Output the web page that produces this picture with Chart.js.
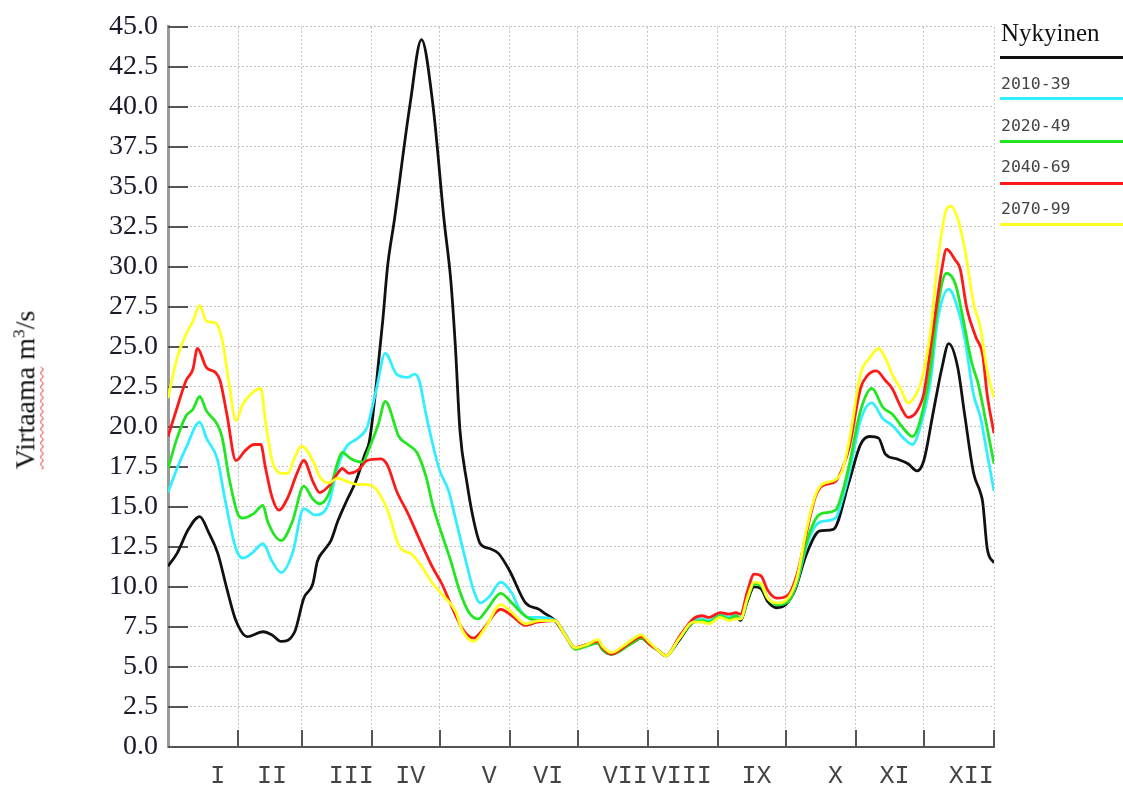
<!DOCTYPE html>
<html>
<head>
<meta charset="utf-8">
<title>Virtaama</title>
<script src="https://cdn.jsdelivr.net/npm/chart.js@4.4.1/dist/chart.umd.min.js"></script>
<style>
  html, body { margin: 0; padding: 0; background: #fff; }
  #wrap { position: relative; width: 1123px; height: 792px; overflow: hidden; }
  #c { position: absolute; left: 0; top: 0; }
  #ytitle {
    position: absolute; left: 25px; top: 390px;
    transform: translate(-50%, -50%) rotate(-90deg);
    font-family: 'Liberation Serif', 'Times New Roman', serif;
    font-size: 28px; color: #111; white-space: nowrap; line-height: 1;
  }
  #ytitle .sp { text-decoration: underline wavy #e01010; text-decoration-thickness: 1px; text-underline-offset: 5px; }
  #ytitle sup { font-size: 62%; }
  .legtext { position: absolute; left: 1001px; white-space: nowrap; }
  .legtitle { font-family: 'Liberation Serif', serif; font-size: 25px; color: #111; top: 19px; }
  .legmono { font-family: 'DejaVu Sans Mono', monospace; font-size: 16.5px; color: #444; }
  .legline { position: absolute; left: 1000px; width: 123px; height: 3px; }
</style>
</head>
<body>
<div id="wrap">
  <canvas id="c" width="1123" height="792"></canvas>
  <div id="ytitle"><span class="sp">Virtaama</span> m<sup>3</sup>/s</div>
  <div class="legtext legtitle">Nykyinen</div>
  <div class="legline" style="top:56px;background:#111;"></div>
  <div class="legtext legmono" style="top:74px;">2010-39</div>
  <div class="legline" style="top:97px;background:#33eeff;"></div>
  <div class="legtext legmono" style="top:116px;">2020-49</div>
  <div class="legline" style="top:140px;background:#22e622;"></div>
  <div class="legtext legmono" style="top:157px;">2040-69</div>
  <div class="legline" style="top:182px;background:#ff1a1a;"></div>
  <div class="legtext legmono" style="top:199px;">2070-99</div>
  <div class="legline" style="top:223px;background:#ffff22;"></div>
</div>
<script>
// Day of year (0-365) at the end of each month, used for the vertical grid
const monthEnds = [31, 59, 90, 120, 151, 181, 212, 243, 273, 304, 334, 365];
// Month names and the day position where each name is written
const monthNames = ['I', 'II', 'III', 'IV', 'V', 'VI', 'VII', 'VIII', 'IX', 'X', 'XI', 'XII'];
const monthLabelDays = [22, 46, 81, 107, 142, 168, 202, 227, 260, 295, 321, 355];

// Daily flow, m3/s: [day of year, flow]
const nykyinen = [
  [0, 11.3], [4, 12.1], [9, 13.6], [14, 14.4], [18, 13.4], [22, 12.1], [26, 9.9], [30, 7.9],
  [35, 6.9], [42, 7.2], [46, 7.0], [50, 6.6], [56, 7.2], [60, 9.3], [64, 10.2], [66, 11.6],
  [69, 12.3], [72, 12.9], [75, 14.1], [79, 15.4], [83, 16.6], [87, 18.3], [89, 19.1], [92, 22.6],
  [95, 26.8], [97, 30.0], [100, 32.9], [107, 40.2], [112, 44.2], [117, 40.2], [122, 32.9],
  [125, 29.1], [127, 25.0], [129, 19.8], [132, 16.6], [135, 14.2], [138, 12.7], [142, 12.4],
  [146, 12.1], [151, 11.0], [158, 9.0], [164, 8.6], [167, 8.3], [171, 7.9], [175, 7.1],
  [180, 6.2], [185, 6.4], [190, 6.5], [192, 6.1], [196, 5.8], [201, 6.2], [205, 6.5], [209, 6.8],
  [213, 6.4], [217, 6.0], [220, 5.7], [226, 6.7], [232, 7.8], [236, 7.9], [239, 7.8], [244, 8.2],
  [248, 8.0], [251, 8.2], [253, 7.9], [256, 9.1], [259, 10.0], [262, 9.9], [265, 9.1], [269, 8.7],
  [273, 8.9], [277, 9.8], [282, 12.0], [288, 13.5], [294, 13.6], [301, 16.6], [306, 18.9],
  [310, 19.4], [314, 19.3], [317, 18.3], [322, 18.0], [327, 17.7], [331, 17.25], [334, 17.9],
  [338, 20.8], [342, 23.7], [345, 25.2], [349, 23.7], [352, 20.8], [356, 17.1], [359, 15.9],
  [360, 15.3], [362, 12.4], [365, 11.5]
];

const k2010_39 = [
  [0, 15.9], [4, 17.4], [8, 18.7], [14, 20.3], [17, 19.3], [22, 17.9], [25, 15.6], [30, 12.4],
  [33, 11.8], [37, 12.1], [42, 12.7], [46, 11.6], [50, 10.9], [55, 12.1], [60, 14.9], [65, 14.5],
  [71, 15.2], [75, 17.5], [79, 18.8], [84, 19.3], [88, 20.0], [92, 22.3], [96, 24.6], [101, 23.3],
  [106, 23.1], [109, 23.3], [111, 22.9], [114, 20.8], [117, 18.9], [120, 17.3], [124, 16.0],
  [127, 14.3], [132, 11.4], [135, 9.8], [138, 9.0], [142, 9.4], [147, 10.3], [152, 9.6],
  [155, 8.7], [159, 8.1], [164, 8.1], [171, 7.9], [175, 7.2],
  [180, 6.2], [185, 6.4], [190, 6.6], [192, 6.2], [196, 5.8], [201, 6.2], [205, 6.6], [209, 6.9],
  [213, 6.4], [217, 6.0], [220, 5.7], [226, 6.8], [232, 7.9], [236, 8.0], [239, 7.9], [244, 8.3],
  [248, 8.1], [251, 8.3], [253, 8.0], [256, 9.3], [259, 10.2], [262, 10.1], [265, 9.3], [269, 8.9],
  [274, 9.1], [278, 10.3], [282, 12.5], [286, 13.8], [289, 14.1], [295, 14.3], [298, 15.5],
  [301, 17.1], [306, 20.4], [311, 21.5], [316, 20.5], [320, 20.1], [325, 19.3], [329, 18.9],
  [332, 19.8], [337, 22.9], [340, 26.6], [345, 28.6], [349, 27.4], [352, 25.6], [356, 22.0],
  [359, 20.6], [362, 18.3], [365, 16.0]
];

const k2020_49 = [
  [0, 17.4], [4, 19.3], [8, 20.7], [11, 21.1], [14, 21.9], [17, 21.0], [22, 20.1], [24, 19.3],
  [27, 16.8], [31, 14.5], [33, 14.3], [38, 14.6], [42, 15.1], [44, 14.1], [50, 12.9], [55, 14.1],
  [60, 16.3], [64, 15.5], [67, 15.2], [71, 15.8], [75, 17.8], [77, 18.4], [81, 18.0], [86, 17.8],
  [89, 18.7], [93, 20.2], [96, 21.6], [102, 19.4], [106, 18.9], [110, 18.4], [114, 16.9],
  [117, 15.1], [121, 13.3], [125, 11.6], [129, 9.7], [133, 8.4], [137, 8.0], [141, 8.6],
  [147, 9.6], [152, 9.0], [156, 8.4], [160, 8.0], [164, 7.9], [171, 7.9], [175, 7.1],
  [180, 6.1], [185, 6.3], [190, 6.5], [192, 6.1], [196, 5.8], [201, 6.1], [205, 6.5], [209, 6.8],
  [213, 6.4], [217, 6.0], [220, 5.7], [226, 6.8], [232, 7.8], [236, 7.9], [239, 7.8], [244, 8.2],
  [248, 8.0], [251, 8.2], [253, 8.0], [256, 9.2], [259, 10.2], [262, 10.1], [265, 9.3], [269, 8.9],
  [274, 9.1], [278, 10.4], [282, 12.7], [286, 14.2], [289, 14.6], [295, 14.8], [298, 15.9],
  [301, 17.6], [306, 21.0], [311, 22.4], [316, 21.2], [320, 20.8], [325, 19.9], [329, 19.4],
  [332, 20.2], [337, 23.7], [340, 27.4], [344, 29.6], [348, 28.9], [351, 27.0], [355, 24.1],
  [358, 22.7], [362, 19.9], [365, 17.7]
];

const k2040_69 = [
  [0, 19.4], [4, 21.2], [8, 22.9], [11, 23.6], [13, 24.9], [17, 23.7], [21, 23.4], [23, 22.9],
  [26, 20.8], [30, 17.9], [34, 18.5], [38, 18.9], [41, 18.9], [43, 17.5], [46, 15.6], [49, 14.8],
  [53, 15.6], [57, 17.1], [60, 17.9], [64, 16.6], [67, 15.9], [71, 16.3], [75, 17.1], [77, 17.4],
  [80, 17.1], [84, 17.3], [88, 17.9], [94, 18.0], [97, 17.6], [101, 16.0], [106, 14.6],
  [112, 12.7], [117, 11.2], [121, 10.2], [125, 8.9], [130, 7.4], [135, 6.8], [139, 7.3],
  [147, 8.6], [152, 8.2], [158, 7.6], [163, 7.8], [171, 7.9], [175, 7.1],
  [180, 6.2], [185, 6.4], [190, 6.6], [192, 6.2], [196, 5.8], [201, 6.2], [205, 6.6], [209, 6.9],
  [213, 6.4], [217, 6.0], [220, 5.7], [226, 6.9], [232, 8.0], [236, 8.2], [239, 8.1], [244, 8.4],
  [248, 8.3], [251, 8.4], [253, 8.3], [256, 9.7], [259, 10.8], [262, 10.7], [265, 9.8], [269, 9.3],
  [274, 9.5], [278, 10.8], [282, 13.3], [286, 15.6], [289, 16.3], [295, 16.6], [298, 17.4],
  [301, 18.7], [306, 22.4], [309, 23.2], [313, 23.5], [317, 22.9], [320, 22.4], [324, 21.2],
  [327, 20.6], [331, 21.0], [334, 22.1], [338, 26.0], [342, 29.9], [344, 31.1], [348, 30.4],
  [350, 29.9], [353, 27.4], [357, 25.6], [360, 24.5], [362, 22.0], [365, 19.6]
];

const k2070_99 = [
  [0, 21.8], [4, 24.3], [8, 25.8], [11, 26.6], [14, 27.6], [17, 26.6], [21, 26.5], [24, 25.4],
  [27, 22.7], [30, 20.4], [33, 21.4], [37, 22.1], [41, 22.4], [43, 20.4], [46, 17.9], [50, 17.1],
  [53, 17.1], [56, 18.1], [59, 18.8], [64, 17.9], [67, 16.9], [71, 16.5], [75, 16.8], [79, 16.6],
  [84, 16.4], [88, 16.4], [92, 16.1], [97, 14.8], [102, 12.6], [108, 12.0], [112, 11.3],
  [117, 10.2], [122, 9.4], [127, 8.5], [130, 7.3], [135, 6.6], [140, 7.4], [147, 8.9],
  [152, 8.4], [158, 7.7], [164, 7.9], [171, 7.9], [175, 7.1],
  [180, 6.2], [185, 6.4], [190, 6.7], [192, 6.3], [196, 5.9], [201, 6.3], [205, 6.7], [209, 7.0],
  [213, 6.5], [217, 6.0], [220, 5.7], [226, 6.8], [232, 7.8], [236, 7.8], [239, 7.7], [244, 8.1],
  [248, 7.9], [251, 8.0], [253, 8.0], [256, 9.3], [259, 10.3], [262, 10.2], [265, 9.3], [269, 9.0],
  [274, 9.3], [278, 10.6], [282, 13.5], [286, 15.7], [289, 16.4], [295, 16.7], [298, 17.3],
  [301, 19.1], [306, 23.3], [310, 24.3], [314, 24.9], [317, 24.3], [320, 23.3], [324, 22.3],
  [327, 21.5], [330, 21.9], [333, 22.9], [337, 26.0], [340, 30.2], [344, 33.6], [346, 33.8],
  [349, 33.0], [352, 31.2], [356, 27.7], [359, 26.2], [362, 23.5], [365, 21.8]
];

const toPoints = arr => arr.map(([d, v]) => ({ x: d, y: v }));

// Short tick marks drawn inward from both axes
const innerTicks = {
  id: 'innerTicks',
  beforeDatasetsDraw(chart) {
    const { ctx, chartArea: a, scales } = chart;
    ctx.save();
    ctx.strokeStyle = '#555';
    ctx.lineWidth = 2;
    scales.y.ticks.forEach(t => {
      const py = Math.round(scales.y.getPixelForValue(t.value));
      ctx.beginPath();
      ctx.moveTo(a.left, py);
      ctx.lineTo(a.left + 20, py);
      ctx.stroke();
    });
    monthEnds.forEach(d => {
      const px = Math.round(scales.x.getPixelForValue(d));
      ctx.beginPath();
      ctx.moveTo(px, a.bottom);
      ctx.lineTo(px, a.bottom - 17);
      ctx.stroke();
    });
    ctx.restore();
  }
};

const series = [
  { label: 'Nykyinen', data: nykyinen, color: '#111111', order: 4 },
  { label: '2010-39', data: k2010_39, color: '#33eeff', order: 3 },
  { label: '2020-49', data: k2020_49, color: '#22e622', order: 2 },
  { label: '2040-69', data: k2040_69, color: '#ff1a1a', order: 1 },
  { label: '2070-99', data: k2070_99, color: '#ffff22', order: 0 }
];

new Chart(document.getElementById('c'), {
  type: 'line',
  data: {
    datasets: series.map(s => ({
      label: s.label,
      data: toPoints(s.data),
      borderColor: s.color,
      backgroundColor: s.color,
      order: s.order
    }))
  },
  options: {
    responsive: false,
    animation: false,
    elements: {
      point: { radius: 0 },
      line: { borderWidth: 2.8, cubicInterpolationMode: 'monotone' }
    },
    layout: { padding: { left: 0, right: 129, top: 26, bottom: 0 } },
    plugins: { legend: { display: false }, tooltip: { enabled: false } },
    scales: {
      x: {
        type: 'linear', min: 0, max: 365,
        afterBuildTicks: s => { s.ticks = monthEnds.map(v => ({ value: v })); },
        ticks: { display: false },
        grid: { color: '#c2c2c2', lineWidth: 1, drawTicks: false },
        border: { color: '#555', width: 2, dash: [2, 2] },
        afterFit: s => { s.height = 0; }
      },
      xm: {
        type: 'linear', position: 'bottom', min: 0, max: 365,
        afterBuildTicks: s => { s.ticks = monthLabelDays.map(v => ({ value: v })); },
        ticks: {
          autoSkip: false, maxRotation: 0, padding: 14,
          font: { family: 'Liberation Mono', size: 25 }, color: '#444',
          callback: (v, i) => monthNames[i]
        },
        grid: { display: false, drawTicks: false },
        border: { display: false },
        afterFit: s => { s.height = 45; }
      },
      y: {
        min: 0, max: 45,
        ticks: {
          stepSize: 2.5, padding: 10,
          font: { family: 'Liberation Serif', size: 28 }, color: '#1a1a2a',
          callback: v => v.toFixed(1)
        },
        grid: { color: '#c2c2c2', lineWidth: 1, drawTicks: false },
        border: { color: '#9a9a9a', width: 3, dash: [2, 2] },
        afterFit: s => { s.width = 168; }
      }
    }
  },
  plugins: [innerTicks]
});
</script>
</body>
</html>
